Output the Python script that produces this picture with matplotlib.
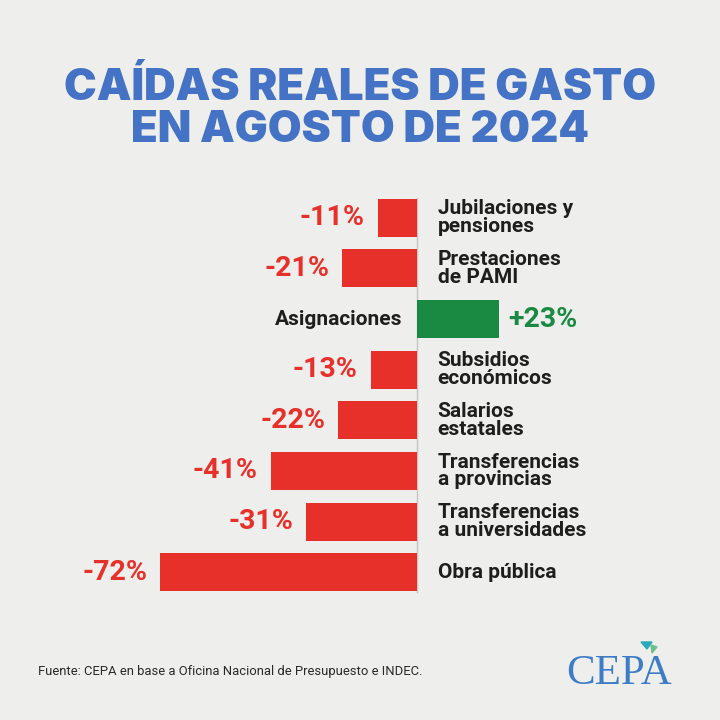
import matplotlib.pyplot as plt
from matplotlib.patches import Polygon

categorias = ["Jubilaciones y\npensiones", "Prestaciones\nde PAMI", "Asignaciones",
              "Subsidios\neconómicos", "Salarios\nestatales", "Transferencias\na provincias",
              "Transferencias\na universidades", "Obra pública"]
valores = [-11, -21, 23, -13, -22, -41, -31, -72]
etiquetas = ["-11%", "-21%", "+23%", "-13%", "-22%", "-41%", "-31%", "-72%"]

rojo = "#e8302a"
verde = "#1a8a43"
azul = "#4472c4"
fondo = "#eeeeec"

fig = plt.figure(figsize=(7.2, 7.2), dpi=100, facecolor=fondo)
ax = fig.add_axes([0, 1 - 600 / 720, 1, 410 / 720])
ax.set_facecolor("none")

y = list(range(len(valores)))
colores = [verde if v > 0 else rojo for v in valores]
ax.barh(y, valores, height=0.75, color=colores, zorder=2)
ax.axvline(0, color="#c4c4c4", lw=1, ymin=0.02, ymax=0.98, zorder=1)

esc = 3.57
ax.set_xlim(-417 / esc, (720 - 417) / esc)
ax.set_ylim(len(valores) - 0.5 + 0.05, -0.5 - 0.05)
ax.axis("off")

for i, v in enumerate(valores):
    if v < 0:
        ax.text(v - 3.6, i, etiquetas[i], color=rojo, fontsize=20.5, fontweight="bold",
                family="Roboto", ha="right", va="center")
        ax.text(5.8, i, categorias[i], color="#1e1e1e", fontsize=15, fontweight="bold",
                family="Roboto", ha="left", va="center", linespacing=0.92)
    else:
        ax.text(v + 2.5, i, etiquetas[i], color=verde, fontsize=20.5, fontweight="bold",
                family="Roboto", ha="left", va="center")
        ax.text(-4.2, i, categorias[i], color="#1e1e1e", fontsize=15, fontweight="bold",
                family="Roboto", ha="right", va="center")

fig.text(0.5, 1 - 89 / 720, "CAÍDAS REALES DE GASTO", color=azul, fontsize=31.5,
         fontweight="black", family="Inter", ha="center", va="center")
fig.text(0.5, 1 - 131 / 720, "EN AGOSTO DE 2024", color=azul, fontsize=31.5,
         fontweight="black", family="Inter", ha="center", va="center")

fig.text(38 / 720, 1 - 672 / 720, "Fuente: CEPA en base a Oficina Nacional de Presupuesto e INDEC.",
         color="#2a2a2a", fontsize=9.4, family="Roboto", ha="left", va="center")

# logo
fig.text(619 / 720, 1 - 674 / 720, "CEPA", color="#3d7cc6", fontsize=31,
         family="Liberation Serif", ha="center", va="center")
fig.patches.append(Polygon([[641 / 720, 1 - 642 / 720], [652 / 720, 1 - 642 / 720],
                            [647 / 720, 1 - 649 / 720]], closed=True, color="#2aa9b8",
                           transform=fig.transFigure, figure=fig))
fig.patches.append(Polygon([[651 / 720, 1 - 645 / 720], [657 / 720, 1 - 647 / 720],
                            [652 / 720, 1 - 653 / 720]], closed=True, color="#6cc08b",
                           transform=fig.transFigure, figure=fig))

fig.savefig("out.png", dpi=100, facecolor=fondo)
